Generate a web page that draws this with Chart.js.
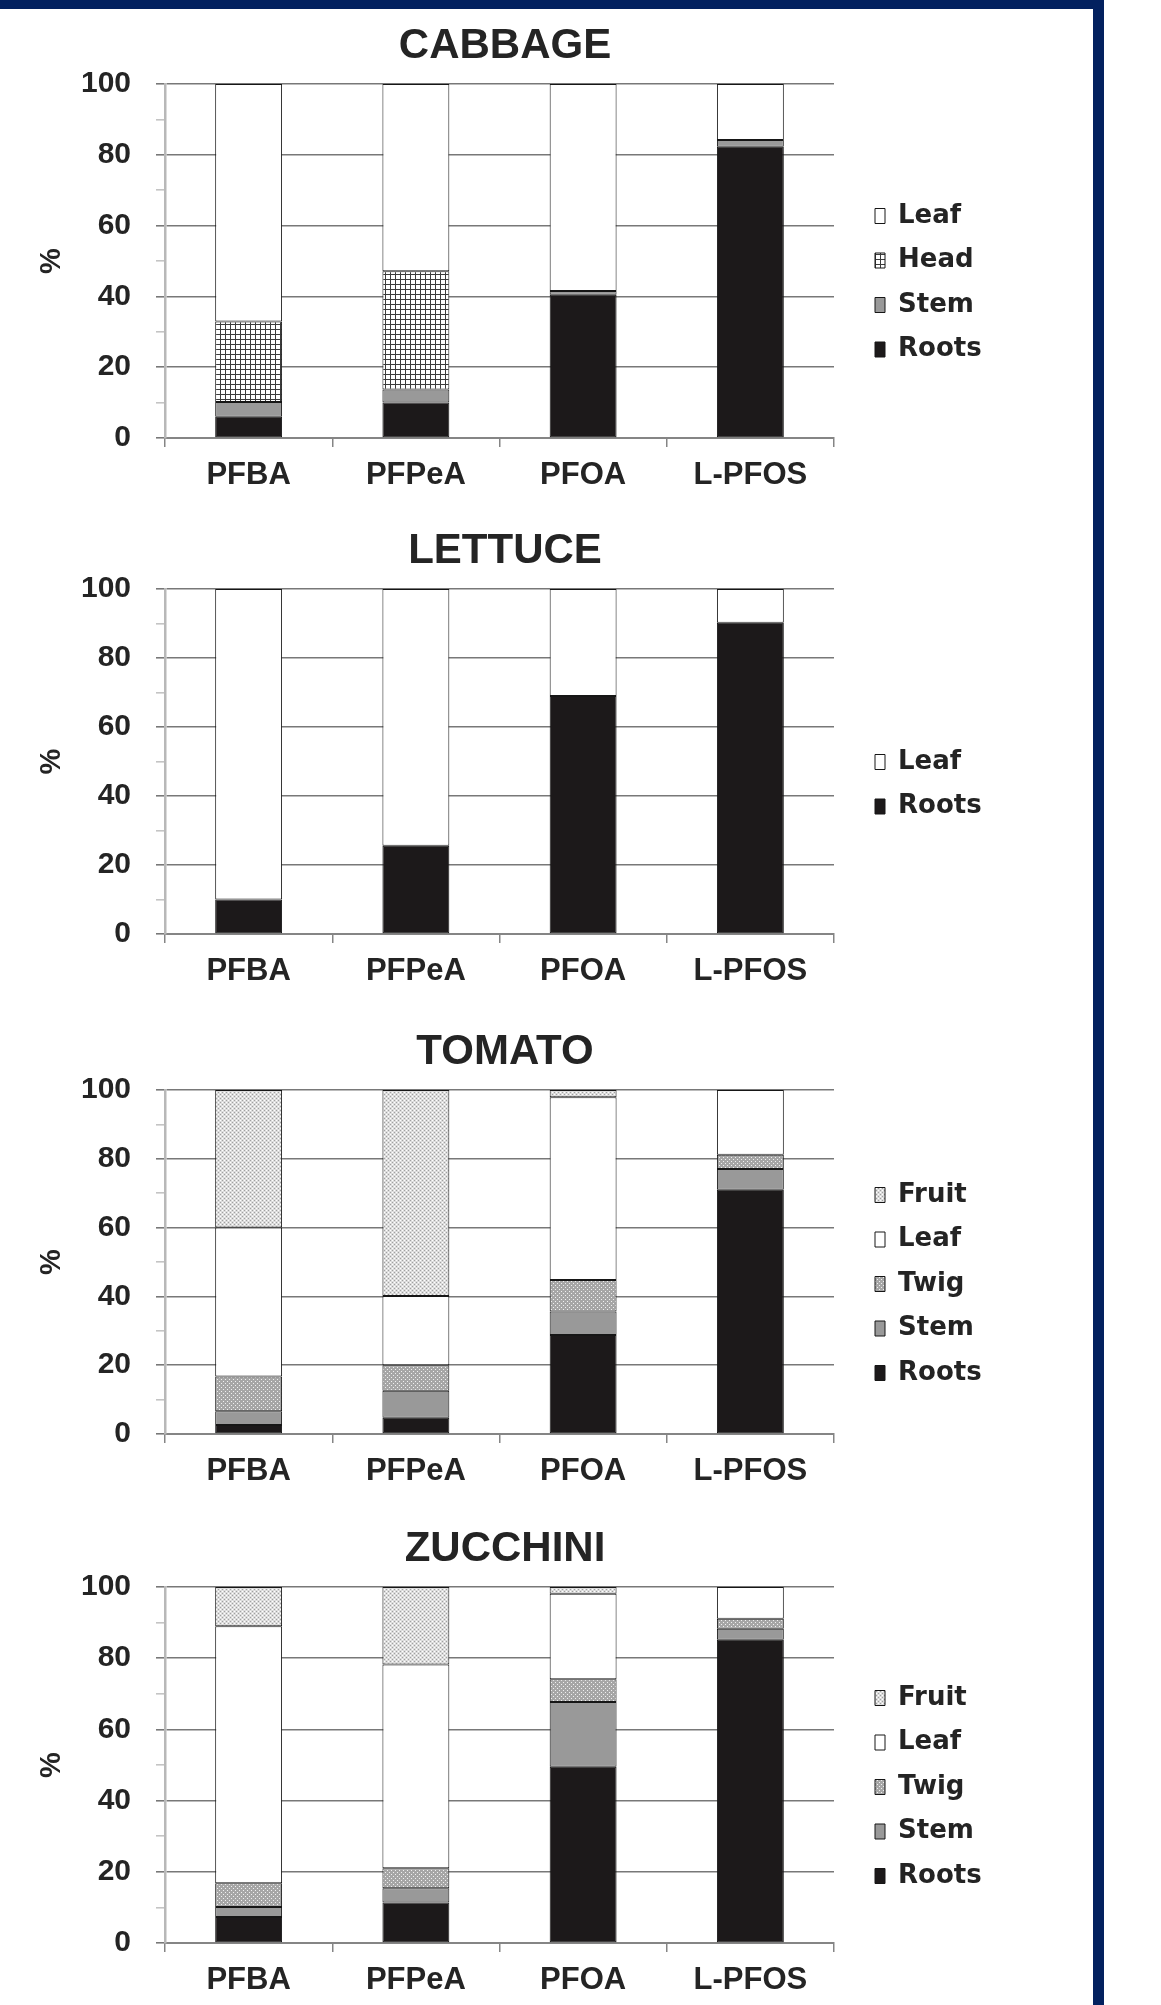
<!DOCTYPE html>
<html>
<head>
<meta charset="utf-8">
<title>PFAA distribution by plant part</title>
<script src="https://cdn.jsdelivr.net/npm/chart.js@4.4.1/dist/chart.umd.min.js"></script>
<style>
  html, body { margin: 0; padding: 0; background: #ffffff; }
  body { width: 1161px; height: 2005px; position: relative; overflow: hidden; }
  .frame-top { position: absolute; left: 0; top: 0; width: 1104px; height: 9px; background: #03215f; }
  .frame-right { position: absolute; left: 1093px; top: 0; width: 11px; height: 2005px; background: #03215f; }
  canvas { position: absolute; left: 0; }
</style>
</head>
<body>
<div class="frame-top"></div>
<div class="frame-right"></div>
<canvas id="cabbage"></canvas>
<canvas id="lettuce"></canvas>
<canvas id="tomato"></canvas>
<canvas id="zucchini"></canvas>
<script>
// ---- data (percent of total amount, per compound) ----
const categories = ['PFBA', 'PFPeA', 'PFOA', 'L-PFOS'];
const yTickValues = [0, 20, 40, 60, 80, 100];

const cabbageRoots = [6.0, 10.0, 40.5, 82.3];
const cabbageStem  = [4.2, 3.7, 1.0, 1.9];
const cabbageHead  = [22.7, 33.4, 0, 0];
const cabbageLeaf  = [67.1, 52.9, 58.5, 15.8];

const lettuceRoots = [10.0, 25.6, 69.0, 90.2];
const lettuceLeaf  = [90.0, 74.4, 31.0, 9.8];

const tomatoRoots = [2.6, 4.7, 28.8, 71.0];
const tomatoStem  = [4.0, 7.9, 6.8, 6.0];
const tomatoTwig  = [10.1, 7.4, 9.2, 4.2];
const tomatoLeaf  = [43.3, 20.1, 53.1, 18.8];
const tomatoFruit = [40.0, 59.9, 2.1, 0];

const zucchiniRoots = [7.3, 11.4, 49.5, 85.2];
const zucchiniStem  = [2.8, 4.0, 18.2, 3.1];
const zucchiniTwig  = [6.7, 5.6, 6.4, 2.8];
const zucchiniLeaf  = [72.2, 57.2, 24.0, 8.9];
const zucchiniFruit = [11.0, 21.8, 1.9, 0];

// ---- fills ----
function tile(size, paint) {
  const c = document.createElement('canvas');
  c.width = size; c.height = size;
  const g = c.getContext('2d');
  paint(g);
  return g.createPattern(c, 'repeat');
}
const fills = {
  Roots: '#1c191a',
  Stem: '#999999',
  Leaf: '#ffffff',
  Head: tile(5, g => {
    g.fillStyle = '#ffffff'; g.fillRect(0, 0, 5, 5);
    g.fillStyle = '#3c3c3c'; g.fillRect(0, 0, 5, 1); g.fillRect(0, 0, 1, 5);
  }),
  Twig: tile(4, g => {
    g.fillStyle = '#a6a6a6'; g.fillRect(0, 0, 4, 4);
    g.fillStyle = '#f0f0f0'; g.fillRect(1, 1, 1, 1); g.fillRect(3, 3, 1, 1);
  }),
  Fruit: tile(4, g => {
    g.fillStyle = '#dcdcdc'; g.fillRect(0, 0, 4, 4);
    g.fillStyle = '#a0a0a0'; g.fillRect(0, 0, 1, 1); g.fillRect(2, 2, 1, 1);
    g.fillStyle = '#ffffff'; g.fillRect(2, 0, 1, 1); g.fillRect(0, 2, 1, 1);
  })
};

function series(label, data) {
  return {
    label: label,
    data: data,
    backgroundColor: fills[label],
    borderColor: '#161616',
    borderWidth: 1,
    borderSkipped: false
  };
}

// ---- panel placement (page pixels) ----
const panels = [
  { id: 'cabbage', title: 'CABBAGE', plotTop: 84, plotBottom: 438, legendFirst: 216,
    datasets: [series('Roots', cabbageRoots), series('Stem', cabbageStem), series('Head', cabbageHead), series('Leaf', cabbageLeaf)] },
  { id: 'lettuce', title: 'LETTUCE', plotTop: 589, plotBottom: 934, legendFirst: 762,
    datasets: [series('Roots', lettuceRoots), series('Leaf', lettuceLeaf)] },
  { id: 'tomato', title: 'TOMATO', plotTop: 1090, plotBottom: 1434, legendFirst: 1195,
    datasets: [series('Roots', tomatoRoots), series('Stem', tomatoStem), series('Twig', tomatoTwig), series('Leaf', tomatoLeaf), series('Fruit', tomatoFruit)] },
  { id: 'zucchini', title: 'ZUCCHINI', plotTop: 1587, plotBottom: 1943, legendFirst: 1698,
    datasets: [series('Roots', zucchiniRoots), series('Stem', zucchiniStem), series('Twig', zucchiniTwig), series('Leaf', zucchiniLeaf), series('Fruit', zucchiniFruit)] }
];

const CANVAS_W = 1010;
const TITLE_BAND = 80;     // title block above the plot
const AXIS_BAND = 62;      // category labels below the plot
const Y_AXIS_W = 165;      // left gutter: % title + tick labels
const RIGHT_GUTTER = 176;  // room for the legend
const LEGEND_X = 875;
const LEGEND_FONT = 26;
const LEGEND_PAD = 18.5;

const sansBold = (size) => ({ family: "'Liberation Sans', Arial, sans-serif", size: size, weight: 'bold', lineHeight: 1.2 });
const textColor = '#242424';

// places the legend column at a fixed spot beside the plot
const legendPlacer = {
  id: 'legendPlacer',
  afterLayout(chart, args, opts) {
    const lg = chart.legend;
    if (!lg) return;
    lg.left = opts.x - LEGEND_PAD;
    lg.right = chart.width;
    lg.top = opts.y - LEGEND_FONT / 2 - LEGEND_PAD;
    lg.bottom = chart.height;
    lg.width = lg.right - lg.left;
    lg.height = lg.bottom - lg.top;
  }
};

const isMajor = (v) => Math.round(v) % 20 === 0;

panels.forEach(p => {
  const canvas = document.getElementById(p.id);
  const plotH = p.plotBottom - p.plotTop;
  const top = p.plotTop - TITLE_BAND;
  canvas.width = CANVAS_W;
  canvas.height = TITLE_BAND + plotH + AXIS_BAND;
  canvas.style.top = top + 'px';

  new Chart(canvas, {
    type: 'bar',
    data: { labels: categories, datasets: p.datasets },
    plugins: [legendPlacer],
    options: {
      responsive: false,
      animation: false,
      devicePixelRatio: 1,
      events: [],
      layout: { padding: 0 },
      datasets: { bar: { categoryPercentage: 1.0, barPercentage: 0.4 } },
      plugins: {
        tooltip: { enabled: false },
        title: {
          display: true,
          text: p.title,
          color: textColor,
          font: { family: "'Liberation Sans', Arial, sans-serif", size: 42, weight: 'bold', lineHeight: 1 },
          padding: { top: 21, bottom: 17 }
        },
        legend: {
          display: true,
          position: 'chartArea',
          align: 'start',
          reverse: true,
          labels: {
            color: textColor,
            font: { family: "'DejaVu Sans', Verdana, sans-serif", size: LEGEND_FONT, weight: 'bold' },
            boxWidth: 10,
            boxHeight: 15,
            padding: LEGEND_PAD
          }
        },
        legendPlacer: { x: LEGEND_X, y: p.legendFirst - top }
      },
      scales: {
        x: {
          stacked: true,
          offset: true,
          grid: {
            display: true,
            offset: true,
            drawOnChartArea: false,
            drawTicks: true,
            tickLength: 9,
            color: '#858585',
            lineWidth: 1.5
          },
          border: { display: true, color: '#858585', width: 2 },
          ticks: { color: textColor, font: sansBold(31), padding: 10, maxRotation: 0, autoSkip: false },
          afterFit(scale) { scale.height = AXIS_BAND; }
        },
        y: {
          stacked: true,
          min: 0,
          max: 100,
          ticks: {
            stepSize: 10,
            autoSkip: false,
            color: textColor,
            font: sansBold(30),
            padding: 25,
            callback: (v) => (yTickValues.includes(v) ? String(v) : '')
          },
          grid: {
            drawTicks: true,
            tickLength: 9,
            color: (c) => (c.tick && isMajor(c.tick.value) ? '#787878' : 'rgba(0,0,0,0)'),
            tickColor: (c) => (c.tick && isMajor(c.tick.value) ? '#787878' : '#c4c4c4'),
            lineWidth: 1.6,
            tickWidth: 1.6
          },
          border: { display: true, color: '#b8b8b8', width: 2.5 },
          title: {
            display: true,
            text: '%',
            color: textColor,
            font: { family: "'Liberation Sans', Arial, sans-serif", size: 29, weight: 'bold', lineHeight: 1 },
            padding: { top: 37, bottom: 0 }
          },
          afterFit(scale) { scale.width = Y_AXIS_W; }
        },
        legendGutter: {
          position: 'right',
          display: true,
          grid: { display: false },
          border: { display: false },
          ticks: { display: false },
          afterFit(scale) { scale.width = RIGHT_GUTTER; }
        }
      }
    }
  });
});
</script>
</body>
</html>
